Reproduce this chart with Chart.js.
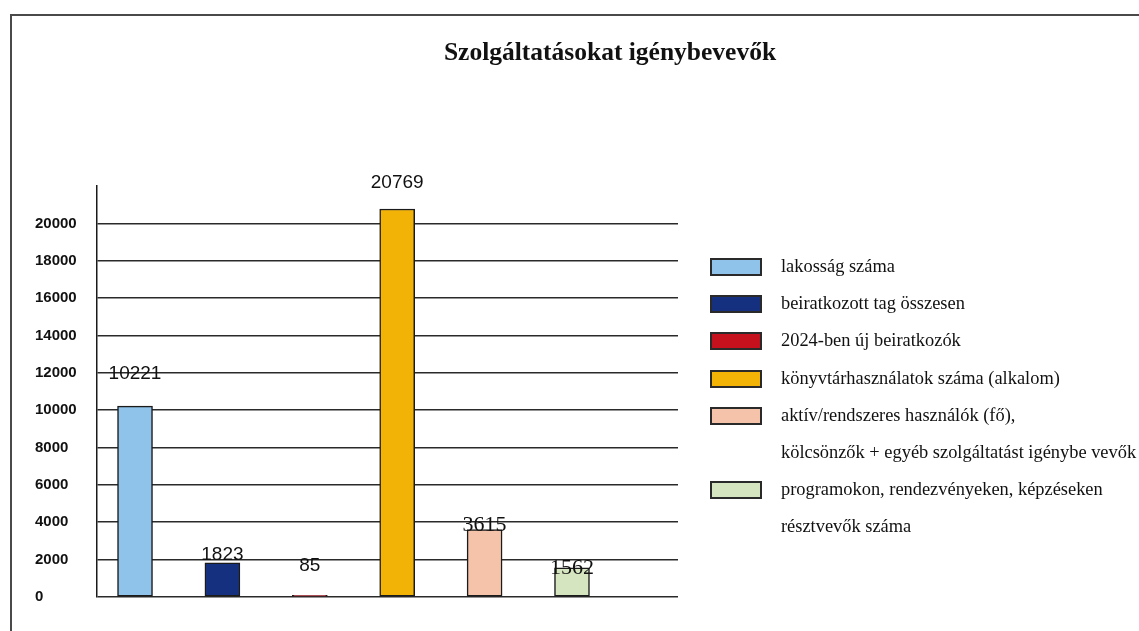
<!DOCTYPE html>
<html lang="hu">
<head>
<meta charset="utf-8">
<title>Szolgáltatásokat igénybevevők</title>
<script src="https://cdn.jsdelivr.net/npm/chart.js@4.4.1/dist/chart.umd.min.js"></script>
<style>
    html, body { margin: 0; padding: 0; background: #fff; }
    .page { position: relative; width: 1139px; height: 631px; overflow: hidden; }
    .frame { position: absolute; left: 10px; top: 14px; width: 1200px; height: 700px;
             border-left: 2px solid #4a4a4a; border-top: 2px solid #4a4a4a; }
    #chart { position: absolute; left: 0; top: 0; }
    .chart-title { position: absolute; left: 0; top: 38px; width: 1220px; text-align: center;
                   font: bold 25.5px "Liberation Serif", "Times New Roman", serif; line-height: 28px; color: #111; }
    .legend { position: absolute; left: 710px; top: 248px; margin: 0; padding: 0; list-style: none; }
    .legend li { position: relative; height: 37.2px; white-space: nowrap; }
    .legend .box { position: absolute; left: 0; top: 10px; width: 48px; height: 14px;
                   border: 2px solid #2a2a2a; }
    .legend .txt { position: absolute; left: 71px; top: 0;
                   font: 18.4px "Liberation Serif", "Times New Roman", serif; line-height: 37px; color: #111; }
</style>
</head>
<body>
<div class="page">
    <div class="frame"></div>
    <canvas id="chart" width="1139" height="631"></canvas>
    <div class="chart-title">Szolgáltatásokat igénybevevők</div>
    <ul class="legend" id="legend"></ul>
</div>
<script>
// Data
const seriesNames = [
    'lakosság száma',
    'beiratkozott tag összesen',
    '2024-ben új beiratkozók',
    'könyvtárhasználatok száma (alkalom)',
    ['aktív/rendszeres használók (fő),', 'kölcsönzők + egyéb szolgáltatást igénybe vevők'],
    ['programokon, rendezvényeken, képzéseken', 'résztvevők száma']
];
const values = [10221, 1823, 85, 20769, 3615, 1562];
const yTicks = [0, 2000, 4000, 6000, 8000, 10000, 12000, 14000, 16000, 18000, 20000];

// Styles
const barColors = ['#8fc3ea', '#15307f', '#c4111d', '#f3b206', '#f5c3aa', '#d4e5bf'];
const labelFonts = [
    '19px "Liberation Sans", Arial, sans-serif',
    '19px "Liberation Sans", Arial, sans-serif',
    '19px "Liberation Sans", Arial, sans-serif',
    '19px "Liberation Sans", Arial, sans-serif',
    '22px "Liberation Serif", "Times New Roman", serif',
    '22px "Liberation Serif", "Times New Roman", serif'
];
// labels were placed by hand in the original, lift above bar top in px
const labelLift = [32, 8, 30, 26, 4, 0];

// HTML legend
const legendEl = document.getElementById('legend');
seriesNames.forEach((name, i) => {
    const lines = Array.isArray(name) ? name : [name];
    lines.forEach((line, j) => {
        const li = document.createElement('li');
        if (j === 0) {
            const box = document.createElement('span');
            box.className = 'box';
            box.style.background = barColors[i];
            li.appendChild(box);
        }
        const txt = document.createElement('span');
        txt.className = 'txt';
        txt.textContent = line;
        li.appendChild(txt);
        legendEl.appendChild(li);
    });
});

// Value labels over bars
const valueLabels = {
    id: 'valueLabels',
    afterDatasetsDraw(chart) {
        const ctx = chart.ctx;
        const meta = chart.getDatasetMeta(0);
        ctx.save();
        ctx.fillStyle = '#111';
        ctx.textAlign = 'center';
        ctx.textBaseline = 'middle';
        meta.data.forEach((bar, i) => {
            ctx.font = labelFonts[i];
            ctx.fillText(String(values[i]), bar.x, bar.y - labelLift[i]);
        });
        ctx.restore();
    }
};

const ctx = document.getElementById('chart').getContext('2d');
new Chart(ctx, {
    type: 'bar',
    data: {
        datasets: [{
            data: values.map((v, i) => ({ x: i, y: v })),
            backgroundColor: barColors,
            borderColor: '#1b1b1b',
            borderWidth: 1.5,
            borderSkipped: false,
            barThickness: 35
        }]
    },
    options: {
        responsive: false,
        animation: false,
        layout: { padding: { left: 35, top: 186, right: 461, bottom: 34 } },
        plugins: {
            legend: { display: false },
            title: { display: false },
            tooltip: { enabled: false }
        },
        scales: {
            x: {
                type: 'linear',
                display: false,
                offset: false,
                min: -0.435,
                max: 6.213
            },
            y: {
                min: 0,
                max: 22000,
                afterBuildTicks: axis => {
                    axis.ticks = yTicks.concat([22000]).map(v => ({ value: v }));
                },
                afterFit: axis => { axis.width = 62; },
                border: { display: true, color: '#1a1a1a', width: 1.5 },
                grid: {
                    drawTicks: false,
                    color: '#2a2a2a',
                    lineWidth: 1.6
                },
                ticks: {
                    crossAlign: 'far',
                    padding: 0,
                    color: '#111',
                    font: { family: '"Liberation Sans", Arial, sans-serif', size: 15, weight: 'bold' },
                    callback: v => (yTicks.includes(v) ? String(v) : null)
                }
            }
        }
    },
    plugins: [valueLabels]
});
</script>
</body>
</html>
